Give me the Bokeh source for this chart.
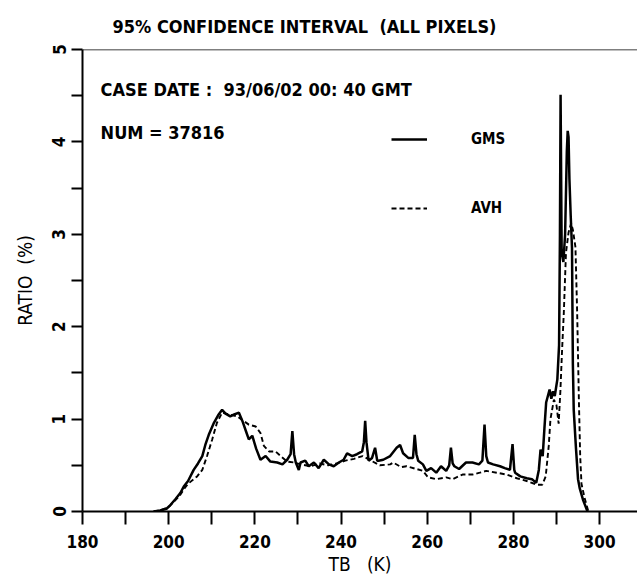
from bokeh.plotting import figure
from bokeh.models import FixedTicker, Label, Legend, LegendItem, Span
from bokeh.embed import file_html
from bokeh.resources import INLINE

# ---------------- data ----------------
tb_gms = [196.5, 198.0, 199.5, 200.4, 201.5, 202.7, 203.5, 204.5, 205.8, 206.8,
          207.8, 208.5, 209.3, 210.5, 211.6, 212.4, 213.2, 214.3, 215.2, 216.3,
          217.1, 218.0, 218.6, 219.4, 220.3, 221.3, 222.5, 223.6, 225.2, 226.4,
          227.5, 228.3, 228.7, 229.1, 229.5, 230.2, 230.6, 231.7, 232.5, 233.7,
          234.8, 236.0, 237.2, 238.3, 239.5, 240.6, 241.4, 242.6, 243.7, 244.9,
          245.3, 245.6, 245.9, 246.4, 247.2, 247.9, 248.4, 248.7, 249.8, 251.4,
          252.9, 253.7, 254.4, 255.6, 256.7, 257.1, 257.5, 257.9, 259.0, 259.8,
          260.9, 262.1, 263.2, 264.4, 265.1, 265.5, 265.9, 266.3, 267.4, 269.0,
          270.5, 272.0, 272.8, 273.3, 273.7, 274.1, 275.3, 276.9, 278.0, 279.2,
          279.8, 280.2, 280.4, 281.6, 283.1, 284.3, 285.3, 285.9, 286.3, 286.8,
          287.2, 287.6, 288.0, 288.4, 288.8, 289.2, 289.6, 290.2, 290.6, 290.8,
          290.95, 291.2, 291.6, 292.0, 292.4, 292.6, 292.8, 293.0, 293.3, 293.6,
          293.8, 294.0, 294.5, 295.0, 295.4, 296.2, 297.2]
ratio_gms = [0.00, 0.01, 0.03, 0.07, 0.13, 0.20, 0.27, 0.33, 0.45, 0.52,
             0.60, 0.72, 0.83, 0.96, 1.05, 1.10, 1.06, 1.03, 1.05, 1.07,
             0.98, 0.86, 0.78, 0.82, 0.68, 0.56, 0.60, 0.54, 0.53, 0.51,
             0.56, 0.62, 0.87, 0.62, 0.53, 0.45, 0.53, 0.55, 0.49, 0.53,
             0.47, 0.56, 0.51, 0.49, 0.53, 0.56, 0.63, 0.60, 0.62, 0.65,
             0.75, 0.98, 0.75, 0.55, 0.58, 0.69, 0.55, 0.55, 0.56, 0.60,
             0.69, 0.72, 0.63, 0.58, 0.58, 0.83, 0.62, 0.55, 0.51, 0.44,
             0.47, 0.42, 0.49, 0.44, 0.50, 0.69, 0.52, 0.49, 0.46, 0.53,
             0.53, 0.51, 0.55, 0.94, 0.60, 0.53, 0.51, 0.49, 0.47, 0.45,
             0.73, 0.45, 0.42, 0.38, 0.36, 0.35, 0.31, 0.45, 0.67, 0.60,
             0.90, 1.18, 1.25, 1.32, 1.22, 1.30, 1.25, 1.43, 1.80, 3.00,
             4.51, 2.80, 2.70, 3.00, 3.90, 4.12, 4.05, 3.60, 3.20, 2.85,
             1.60, 1.10, 0.70, 0.35, 0.25, 0.12, 0.00]

tb_avh = [196.5, 198.0, 200.0, 201.5, 202.7, 203.5, 204.5, 205.8, 206.6, 207.8,
          208.9, 210.1, 211.2, 212.4, 214.0, 215.9, 217.4, 218.6, 220.2, 221.3,
          222.1, 223.3, 224.8, 226.0, 227.5, 229.1, 230.6, 232.9, 235.0, 237.0,
          239.0, 241.0, 243.0, 245.0, 247.0, 249.0, 251.4, 252.1, 254.0, 255.2,
          257.5, 259.0, 260.2, 262.1, 264.4, 265.9, 268.2, 270.5, 272.2, 273.7,
          276.1, 278.4, 280.8, 283.1, 285.5, 286.7, 287.5, 288.2, 288.6, 289.4,
          290.0, 290.5, 290.9, 291.3, 291.7, 292.2, 292.8, 293.4, 293.8, 294.4,
          294.8, 295.2, 295.5, 295.8, 296.5, 297.4]
ratio_avh = [0.00, 0.01, 0.05, 0.12, 0.18, 0.24, 0.30, 0.35, 0.38, 0.45,
             0.60, 0.78, 0.96, 1.07, 1.05, 1.03, 0.98, 0.94, 0.92, 0.85,
             0.71, 0.65, 0.65, 0.60, 0.54, 0.53, 0.51, 0.49, 0.52, 0.50,
             0.52, 0.55, 0.57, 0.60, 0.55, 0.50, 0.51, 0.53, 0.48, 0.49,
             0.46, 0.44, 0.37, 0.35, 0.37, 0.35, 0.40, 0.40, 0.42, 0.44,
             0.42, 0.40, 0.36, 0.33, 0.29, 0.29, 0.38, 0.71, 1.00, 1.21,
             1.15, 0.95, 1.30, 1.75, 2.15, 2.80, 3.02, 3.12, 3.05, 2.86,
             2.15, 1.20, 0.60, 0.30, 0.15, 0.00]

x_major = [180, 200, 220, 240, 260, 280, 300]
x_minor = [190, 210, 230, 250, 270, 290]
y_major = [0, 1, 2, 3, 4, 5]
y_minor = [0.5, 1.5, 2.5, 3.5, 4.5]

NB = "\u00a0"
title_text = "95% CONFIDENCE INTERVAL" + NB + NB + "(ALL PIXELS)"
case_text = "CASE DATE :" + NB + NB + "93/06/02 00:" + NB + "40 GMT"
num_text = "NUM = 37816"
x_label = "TB" + NB + NB + NB + "(K)"
y_label = "RATIO" + NB + NB + "(%)"
series_names = ["GMS", "AVH"]

FONT = "DejaVu Sans Condensed"
INK = "black"

p = figure(width=637, height=577, output_backend="svg", toolbar_location=None,
           x_range=(180, 308.8), y_range=(0, 5),
           min_border_left=82, min_border_right=0, min_border_top=49,
           min_border_bottom=65)
p.background_fill_color = "white"
p.border_fill_color = "white"
p.outline_line_color = None
p.grid.visible = False

# title
p.title.text = title_text
p.title.text_font = FONT
p.title.text_font_style = "bold"
p.title.text_font_size = "18px"
p.title.text_color = INK
p.title.align = "left"
p.title.offset = 30
p.title.standoff = 26

# top frame line
p.add_layout(Span(location=5, dimension="width", line_color=INK, line_width=1.5))

# x axis
xa = p.xaxis[0]
xa.ticker = FixedTicker(ticks=x_major, minor_ticks=x_minor)
xa.axis_label = x_label
xa.axis_label_text_font = FONT
xa.axis_label_text_font_style = "normal"
xa.axis_label_text_font_size = "19px"
xa.axis_label_text_color = INK
xa.axis_label_standoff = 2
xa.major_label_text_font = FONT
xa.major_label_text_font_style = "bold"
xa.major_label_text_font_size = "17px"
xa.major_label_text_color = INK
xa.major_label_standoff = 10
xa.axis_line_width = 2
xa.axis_line_color = INK
xa.major_tick_in = 0
xa.major_tick_out = 13
xa.minor_tick_in = 0
xa.minor_tick_out = 13
xa.major_tick_line_width = 2
xa.minor_tick_line_width = 2
xa.major_tick_line_color = INK
xa.minor_tick_line_color = INK

# y axis
ya = p.yaxis[0]
ya.ticker = FixedTicker(ticks=y_major, minor_ticks=y_minor)
ya.axis_label = y_label
ya.axis_label_text_font = FONT
ya.axis_label_text_font_style = "normal"
ya.axis_label_text_font_size = "19px"
ya.axis_label_text_color = INK
ya.axis_label_standoff = 14
ya.major_label_text_font = FONT
ya.major_label_text_font_style = "bold"
ya.major_label_text_font_size = "17px"
ya.major_label_text_color = INK
ya.major_label_orientation = "vertical"
ya.major_label_standoff = 6
ya.axis_line_width = 2
ya.axis_line_color = INK
ya.major_tick_in = 0
ya.major_tick_out = 11
ya.minor_tick_in = 0
ya.minor_tick_out = 11
ya.major_tick_line_width = 2
ya.minor_tick_line_width = 2
ya.major_tick_line_color = INK
ya.minor_tick_line_color = INK

# curves
r_gms = p.line(tb_gms, ratio_gms, line_color=INK, line_width=2.5)
r_avh = p.line(tb_avh, ratio_avh, line_color=INK, line_width=1.9, line_dash="5 3")

# legend
legend = Legend(items=[LegendItem(label=series_names[0], renderers=[r_gms]),
                       LegendItem(label=series_names[1], renderers=[r_avh])],
                location=(309, 293), orientation="vertical",
                glyph_width=36, glyph_height=20, label_height=20,
                label_standoff=44, spacing=49, padding=0, margin=0,
                border_line_color=None, background_fill_alpha=0,
                label_text_font=FONT, label_text_font_style="bold",
                label_text_font_size="15px", label_text_color=INK)
p.add_layout(legend)

# annotations
p.add_layout(Label(x=184.2, y=4.57, text=case_text, text_font=FONT,
                   text_font_style="bold", text_font_size="18px",
                   text_baseline="middle", text_color=INK))
p.add_layout(Label(x=184.2, y=4.10, text=num_text, text_font=FONT,
                   text_font_style="bold", text_font_size="18px",
                   text_baseline="middle", text_color=INK))

open("out.html", "w").write(file_html(p, INLINE))
